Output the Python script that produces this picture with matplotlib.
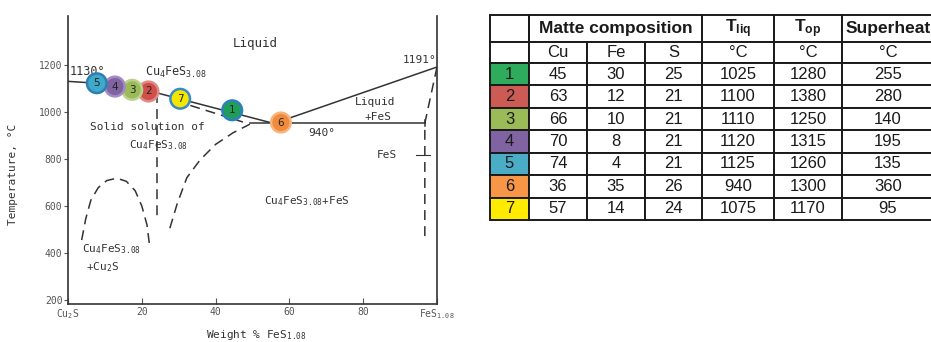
import numpy as np
import matplotlib.pyplot as plt

plt.rcParams['font.family'] = ['DejaVu Sans Mono']
plt.rcParams['mathtext.fontset'] = 'custom'
plt.rcParams['mathtext.rm'] = 'DejaVu Sans Mono'
plt.rcParams['mathtext.it'] = 'DejaVu Sans Mono'
plt.rcParams['mathtext.bf'] = 'Liberation Sans:bold'

# --- phase diagram, x = wt% FeS1.08, y = temperature degC
liq_left_x = [0, 8, 13, 17.5, 24.1]
liq_left_t = [1130, 1122, 1108, 1095, 1081]
liq_mid_x = [24.1, 55.5]
liq_mid_t = [1081, 952]
liq_right_x = [56, 100]
liq_right_t = [952, 1191]
eut_x = [49.3, 96.7]
eut_t = [952, 952]

sol_upper_x = [29.0, 47.4]
sol_upper_t = [1048, 957]
sol_lower_x = [27.6, 29.6, 32.2, 35.8, 40.0, 44.7, 49.3]
sol_lower_t = [505, 610, 720, 796, 862, 911, 948]
vert_x = [24.1, 24.1]
vert_t = [1081, 555]
dome_x = [3.7, 4.8, 6.2, 8.2, 10.5, 13.2, 15.8, 18.2, 20.0, 21.4, 22.2]
dome_t = [455, 545, 625, 678, 708, 718, 705, 665, 600, 520, 420]
fes_x = [100, 96.7, 96.7]
fes_t = [1191, 952, 468]

# matte points 1..7 on the liquidus
pt_x = [44.5, 21.8, 17.4, 12.7, 7.8, 57.7, 30.4]
pt_t = [1007, 1087, 1094, 1108, 1122, 955, 1056]
pt_face = ['#1f9e5a', '#cf4f4a', '#9bbb59', '#8064a2', '#3fa9cc', '#f08a3c', '#f5e600']
pt_edge = ['#2f7fc0', '#e08a84', '#b9d28e', '#a48cc2', '#2f7fb0', '#f7b57e', '#3a8ac8']

# table
row_colors = ['#2eab5c', '#cc5b55', '#9bbb59', '#8064a2', '#4bacc6', '#f79646', '#ffeb00']
cu = [45, 63, 66, 70, 74, 36, 57]
fe = [30, 12, 10, 8, 4, 35, 14]
s = [25, 21, 21, 21, 21, 26, 24]
t_liq = [1025, 1100, 1110, 1120, 1125, 940, 1075]
t_op = [1280, 1380, 1250, 1315, 1260, 1300, 1170]
superheat = [255, 280, 140, 195, 135, 360, 95]

W, H = 931, 342
fig = plt.figure(figsize=(W / 100, H / 100), dpi=100)
ax = fig.add_axes([68 / W, 1 - 304 / H, (437 - 68) / W, (304 - 16) / H])

ink = '#333333'
lw = 1.1
dash = (0, (6.5, 4))
ax.plot(liq_left_x, liq_left_t, color=ink, lw=lw)
ax.plot(liq_mid_x, liq_mid_t, color=ink, lw=lw)
ax.plot(liq_right_x, liq_right_t, color=ink, lw=lw)
ax.plot(eut_x, eut_t, color=ink, lw=lw)
ax.plot([96.7, 96.7], [940, 964], color=ink, lw=lw)
ax.plot([94.2, 98.0], [818, 818], color=ink, lw=0.8)
for xs, ts in [(sol_upper_x, sol_upper_t), (sol_lower_x, sol_lower_t),
               (vert_x, vert_t), (dome_x, dome_t), (fes_x, fes_t)]:
    ax.plot(xs, ts, color=ink, lw=lw, ls=dash)

ax.scatter(pt_x, pt_t, s=200, c=pt_face, edgecolors=pt_edge, linewidths=1.8, zorder=5)
for i in range(7):
    ax.text(pt_x[i], pt_t[i], str(i + 1), ha='center', va='center', fontsize=7.5,
            color='#222222', family='DejaVu Sans', zorder=6)

tc = ink
ax.text(50.7, 1289, 'Liquid', ha='center', va='center', fontsize=9, color=tc)
ax.text(0.5, 1170, '1130°', ha='left', va='center', fontsize=8.5, color=tc)
ax.text(20.9, 1166, 'Cu$_4$FeS$_{3.08}$', ha='left', va='center', fontsize=8.5, color=tc)
ax.text(21.4, 936, 'Solid solution of', ha='center', va='center', fontsize=8, color=tc)
ax.text(24.4, 860, 'Cu$_4$FeS$_{3.08}$', ha='center', va='center', fontsize=8, color=tc)
ax.text(95.4, 1221, '1191°', ha='center', va='center', fontsize=8, color=tc)
ax.text(83.2, 1043, 'Liquid', ha='center', va='center', fontsize=8, color=tc)
ax.text(84.0, 979, '+FeS', ha='center', va='center', fontsize=8, color=tc)
ax.text(68.8, 911, '940°', ha='center', va='center', fontsize=8, color=tc)
ax.text(86.4, 817, 'FeS', ha='center', va='center', fontsize=8, color=tc)
ax.text(64.8, 621, 'Cu$_4$FeS$_{3.08}$+FeS', ha='center', va='center', fontsize=8, color=tc)
ax.text(11.7, 417, 'Cu$_4$FeS$_{3.08}$', ha='center', va='center', fontsize=8, color=tc)
ax.text(9.3, 340, '+Cu$_2$S', ha='center', va='center', fontsize=8, color=tc)

ax.set_xlim(0, 100)
ax.set_ylim(183, 1408)
ax.set_xticks([0, 20, 40, 60, 80, 100])
ax.set_xticklabels(['Cu$_2$S', '20', '40', '60', '80', 'FeS$_{1.08}$'])
ax.set_yticks([200, 400, 600, 800, 1000, 1200])
ax.tick_params(axis='x', direction='in', length=4, width=0.8, colors='#555555', labelsize=7, pad=2)
ax.tick_params(axis='y', direction='out', length=3, width=0.8, colors='#555555', labelsize=7, pad=1)
for side in ['left', 'bottom', 'right']:
    ax.spines[side].set_linewidth(1.2)
    ax.spines[side].set_color(ink)
ax.spines['top'].set_visible(False)
ax.set_ylabel('Temperature, °C', fontsize=8, color=ink)
ax.yaxis.set_label_coords(-0.135, 0.45)
ax.set_xlabel('Weight % FeS$_{1.08}$', fontsize=8, color=ink)
ax.xaxis.set_label_coords(0.51, -0.085)

# --- table
tax = fig.add_axes([490 / W, 1 - 220 / H, (934 - 490) / W, 205 / H])
tax.axis('off')
rows = [['', '', 'Matte composition', '', r'$\mathbf{T_{liq}}$', r'$\mathbf{T_{op}}$', 'Superheat'],
        ['', 'Cu', 'Fe', 'S', '°C', '°C', '°C']]
for i in range(7):
    rows.append([str(i + 1), str(cu[i]), str(fe[i]), str(s[i]),
                 str(t_liq[i]), str(t_op[i]), str(superheat[i])])
col_w = [39, 58, 58, 57, 72, 68, 92]
row_h = [27, 21] + [22.4] * 7
tbl = tax.table(cellText=rows, cellLoc='center', colWidths=col_w, bbox=[0, 0, 1, 1])
tbl.auto_set_font_size(False)
for (r, c), cell in tbl.get_celld().items():
    cell.set_height(row_h[r])
    cell.set_linewidth(1.4)
    cell.set_edgecolor('#1a1a1a')
    txt = cell.get_text()
    txt.set_family('Liberation Sans')
    if r == 0:
        txt.set_fontsize(12.5)
        txt.set_fontweight('bold')
        if c == 1:
            cell.visible_edges = 'BTL'
            cell.set_facecolor('none')
        elif c == 2:
            cell.visible_edges = 'BT'
        elif c == 3:
            cell.visible_edges = 'BTR'
            cell.set_facecolor('none')
    else:
        txt.set_fontsize(12)
    txt.set_color('#1a1a1a')
    if r >= 2 and c == 0:
        cell.set_facecolor(row_colors[r - 2])

fig.savefig('out.png', dpi=100)
